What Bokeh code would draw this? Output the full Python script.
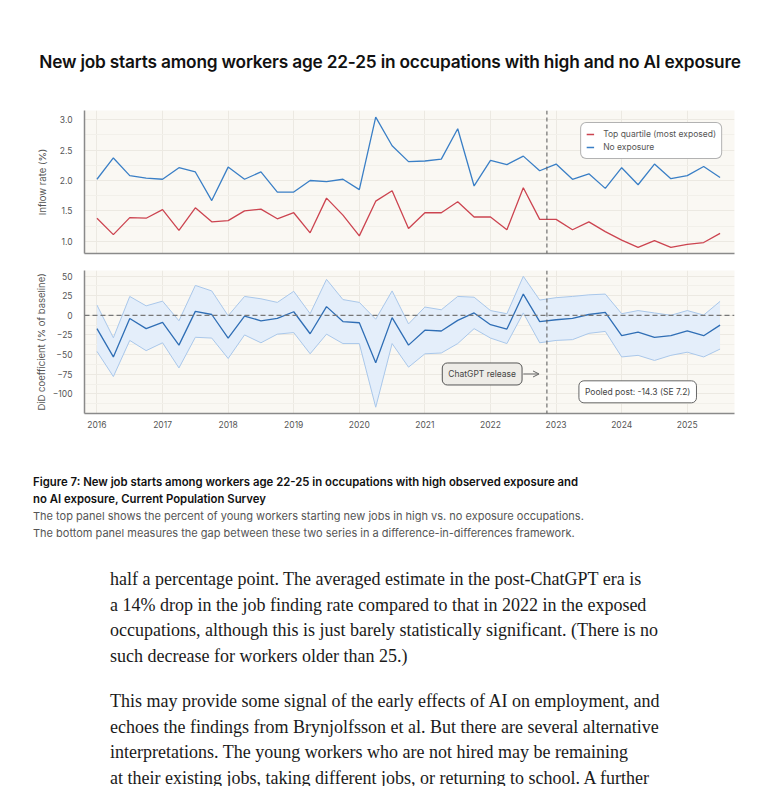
from bokeh.plotting import figure
from bokeh.models import (Range1d, FixedTicker, Span, Label, Arrow, OpenHead, Legend,
                          LegendItem, Div, ColumnDataSource, PrintfTickFormatter)
from bokeh.layouts import column
from bokeh.embed import file_html
from bokeh.resources import INLINE

# ---------------- data ----------------
quarters = ["2016Q1", "2016Q2", "2016Q3", "2016Q4", "2017Q1", "2017Q2", "2017Q3", "2017Q4",
            "2018Q1", "2018Q2", "2018Q3", "2018Q4", "2019Q1", "2019Q2", "2019Q3", "2019Q4",
            "2020Q1", "2020Q2", "2020Q3", "2020Q4", "2021Q1", "2021Q2", "2021Q3", "2021Q4",
            "2022Q1", "2022Q2", "2022Q3", "2022Q4", "2023Q1", "2023Q2", "2023Q3", "2023Q4",
            "2024Q1", "2024Q2", "2024Q3", "2024Q4", "2025Q1", "2025Q2", "2025Q3"]

top_quartile = [1.38, 1.11, 1.39, 1.38, 1.52, 1.18, 1.55, 1.32, 1.34, 1.50, 1.53, 1.37,
                1.47, 1.14, 1.71, 1.43, 1.09, 1.66, 1.83, 1.21, 1.47, 1.47, 1.65, 1.40,
                1.40, 1.19, 1.88, 1.36, 1.36, 1.19, 1.32, 1.16, 1.02, 0.90, 1.01, 0.90,
                0.95, 0.98, 1.13]

no_exposure = [2.02, 2.37, 2.08, 2.04, 2.02, 2.21, 2.14, 1.67, 2.22, 2.02, 2.14, 1.81,
               1.81, 2.00, 1.98, 2.02, 1.85, 3.04, 2.57, 2.31, 2.32, 2.35, 2.85, 1.91,
               2.33, 2.26, 2.40, 2.16, 2.27, 2.02, 2.11, 1.87, 2.21, 1.93, 2.27, 2.03,
               2.08, 2.23, 2.05]

did_coef = [-17, -53, -4, -17, -9, -38, 5, 1, -29, -1, -7, -4,
            4.5, -23.5, 11, -8, -9.5, -60.5, -3, -38, -19, -20, -6.5, 3,
            -12, -17.5, 27, -8, -5.7, -4, 1, 3.7, -26, -21.4, -28, -26,
            -19.7, -26, -12.5]

did_upper = [13, -28.6, 24, 12, 18, -7, 38, 31, -0.6, 24, 21, 16.4,
             30.5, 2, 45.7, 20, 16.4, -5, 31, -11, 10.5, 7, 24, 23,
             6, 2, 49.6, 19.4, 22.4, 24, 26, 27, 2, 6, 3, 0,
             6, 0.3, 17.7]

did_lower = [-46, -78, -32, -45, -35, -67, -28, -29, -55, -25, -35, -24,
             -22, -49, -24, -36, -36, -117, -36, -66, -49, -48, -36, -17,
             -29, -36, 3, -35, -32, -31, -23, -20.5, -53, -51, -57.5, -51,
             -47, -53, -43]

year_ticks = [2016, 2017, 2018, 2019, 2020, 2021, 2022, 2023, 2024, 2025]
top_yticks = [1.0, 1.5, 2.0, 2.5, 3.0]
bottom_yticks = [-100, -75, -50, -25, 0, 25, 50]
chatgpt_release = 2022.86
pooled_text = "Pooled post: -14.3 (SE 7.2)"

x = [int(q[:4]) + (int(q[5]) - 1) / 4 for q in quarters]

src = ColumnDataSource(dict(x=x, top=top_quartile, none=no_exposure,
                            coef=did_coef, up=did_upper, lo=did_lower))

FONT = "Inter"
FRAME_BG = "#FAF8F3"
GRID = "#ECE9E2"
TICK_COL = "#555555"

W = 772
ML = 84
MR = 38


def style(p, yticks, label, standoff):
    p.background_fill_color = FRAME_BG
    p.border_fill_color = "white"
    p.outline_line_color = None
    p.xaxis.ticker = FixedTicker(ticks=year_ticks)
    p.xgrid.ticker = FixedTicker(ticks=year_ticks)
    p.yaxis.ticker = FixedTicker(ticks=yticks)
    for ax in (p.xaxis[0], p.yaxis[0]):
        ax.axis_line_color = "#8a8a8a"
        ax.axis_line_width = 1.5
        ax.major_tick_line_color = None
        ax.minor_tick_line_color = None
        ax.major_label_text_color = TICK_COL
        ax.major_label_text_font = FONT
        ax.major_label_text_font_size = "8.5px"
    p.yaxis.axis_label = label
    p.yaxis.axis_label_text_font = FONT
    p.yaxis.axis_label_text_font_size = "9.5px"
    p.yaxis.axis_label_text_font_style = "normal"
    p.yaxis.axis_label_text_color = TICK_COL
    p.yaxis.axis_label_standoff = standoff
    p.yaxis.major_label_standoff = 6
    p.xgrid.grid_line_color = GRID
    p.ygrid.grid_line_color = GRID
    p.ygrid.minor_grid_line_color = "#F2F0EA"
    p.xgrid.grid_line_width = 1
    p.ygrid.grid_line_width = 1


# ---------------- top panel ----------------
p1 = figure(width=W, height=163, output_backend="svg", toolbar_location=None,
            x_range=Range1d(2015.81, 2025.72), y_range=Range1d(0.8, 3.15),
            min_border_left=ML, min_border_right=MR, min_border_top=15, min_border_bottom=5)
style(p1, top_yticks, "Inflow rate (%)", 9)
p1.yaxis.formatter = PrintfTickFormatter(format="%.1f")
p1.xaxis.ticker = FixedTicker(ticks=[])
p1.xaxis.major_label_standoff = 0
p1.yaxis.ticker.minor_ticks = [0.75, 1.25, 1.75, 2.25, 2.75]

r_red = p1.line("x", "top", source=src, line_color="#CC4450", line_width=1.3)
r_blue = p1.line("x", "none", source=src, line_color="#3A7FC6", line_width=1.3)
p1.add_layout(Span(location=chatgpt_release, dimension="height", line_color="#555555",
                   line_dash="4 3", line_width=1))

legend = Legend(items=[LegendItem(label="Top quartile (most exposed)", renderers=[r_red]),
                       LegendItem(label="No exposure", renderers=[r_blue])],
                location="top_right", margin=12, padding=5, spacing=1,
                glyph_width=8, glyph_height=12, label_height=12, label_standoff=9,
                label_text_font=FONT, label_text_font_size="8.5px", label_text_color=TICK_COL,
                border_line_color="#666666", border_line_width=1,
                background_fill_color="white", background_fill_alpha=1)
try:
    legend.border_radius = 6
except Exception:
    pass
p1.add_layout(legend)

# ---------------- bottom panel ----------------
p2 = figure(width=W, height=182, output_backend="svg", toolbar_location=None,
            x_range=p1.x_range, y_range=Range1d(-125, 57),
            min_border_left=ML, min_border_right=MR, min_border_top=12, min_border_bottom=27)
style(p2, bottom_yticks, "DiD coefficient (% of baseline)", 3)
p2.yaxis.ticker.minor_ticks = [-112.5, -87.5, -62.5, -37.5, -12.5, 12.5, 37.5]
p2.xaxis.major_label_standoff = 1

p2.varea("x", y1="lo", y2="up", source=src, fill_color="#E4EEFA", fill_alpha=1)
p2.line("x", "up", source=src, line_color="#A9C7EA", line_width=1)
p2.line("x", "lo", source=src, line_color="#A9C7EA", line_width=1)
p2.add_layout(Span(location=0, dimension="width", line_color="#777777",
                   line_dash="5 3", line_width=1.2))
p2.line("x", "coef", source=src, line_color="#2F6EB5", line_width=1.3)
p2.add_layout(Span(location=chatgpt_release, dimension="height", line_color="#555555",
                   line_dash="4 3", line_width=1))

p2.add_layout(Label(x=2021.873, y=-74.7, text="ChatGPT release", text_align="center",
                    text_baseline="middle", text_font=FONT, text_font_size="8.5px",
                    text_color="#444444", background_fill_color="#EEECE7",
                    border_line_color="#555555", border_line_width=1, border_radius=5,
                    padding=6))
p2.add_layout(Arrow(end=OpenHead(size=6, line_color="#666666", line_width=1),
                    x_start=2022.50, y_start=-74.7, x_end=2022.74, y_end=-74.7,
                    line_color="#666666", line_width=1))
p2.add_layout(Label(x=2024.244, y=-97.4, text=pooled_text, text_align="center",
                    text_baseline="middle", text_font=FONT, text_font_size="8.5px",
                    text_color="#444444", background_fill_color="white",
                    border_line_color="#666666", border_line_width=1, border_radius=5,
                    padding=6))

# ---------------- texts ----------------
title = Div(width=W, height=95, margin=(0, 0, 0, 0), text=(
    '<div style="width:780px;text-align:center;padding-top:52px;font-family:Inter;'
    'font-weight:600;font-size:17.3px;line-height:20px;color:#111;letter-spacing:-0.2px;'
    'white-space:nowrap;">'
    'New job starts among workers age 22-25 in occupations with high and no AI exposure</div>'))

caption = Div(width=W, height=110, margin=(0, 0, 0, 0), text=(
    '<div style="padding-top:34px;padding-left:33px;font-family:Inter;font-size:11.35px;'
    'line-height:17px;white-space:nowrap;">'
    '<div style="font-weight:600;color:#111;">Figure 7: New job starts among workers age 22-25 '
    'in occupations with high observed exposure and<br>no AI exposure, Current Population Survey</div>'
    '<div style="color:#555;font-size:11px;">The top panel shows the percent of young workers starting new jobs '
    'in high vs. no exposure occupations.<br>The bottom panel measures the gap between these two '
    'series in a difference-in-differences framework.</div></div>'))

body = Div(width=W, height=226, margin=(0, 0, 0, 0), text=(
    '<div style="padding-top:17px;padding-left:110px;font-family:\'Liberation Serif\';'
    'font-size:18px;line-height:25.5px;color:#1a1a1a;white-space:nowrap;">'
    '<div>half a percentage point. The averaged estimate in the post-ChatGPT era is<br>'
    'a 14% drop in the job finding rate compared to that in 2022 in the exposed<br>'
    'occupations, although this is just barely statistically significant. (There is no<br>'
    'such decrease for workers older than 25.)</div>'
    '<div style="margin-top:20px;">This may provide some signal of the early effects of AI on '
    'employment, and<br>echoes the findings from Brynjolfsson et al. But there are several '
    'alternative<br>interpretations. The young workers who are not hired may be remaining<br>'
    'at their existing jobs, taking different jobs, or returning to school. A further</div></div>'))

layout = column(title, p1, p2, caption, body, spacing=0)

open("out.html", "w").write(file_html(layout, INLINE))
